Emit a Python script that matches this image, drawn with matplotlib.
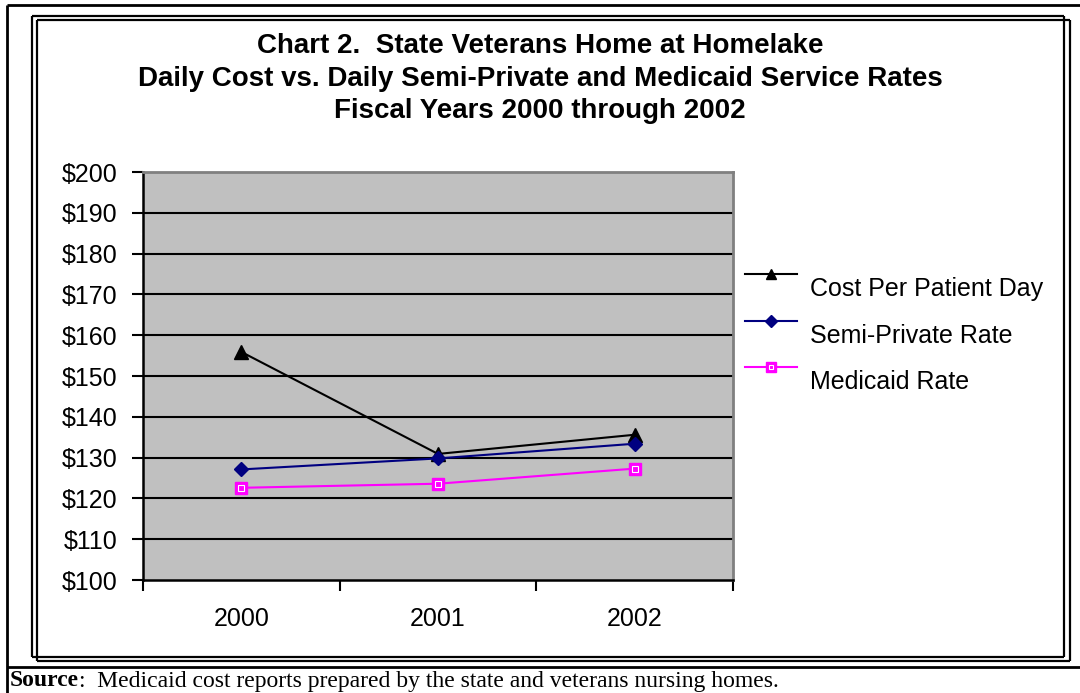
import numpy as np
import matplotlib.pyplot as plt
from matplotlib.lines import Line2D

years = ['2000', '2001', '2002']
cost_per_day = [155.9, 130.9, 135.6]
semi_private = [127.1, 129.8, 133.4]
medicaid = [122.6, 123.6, 127.3]
y_ticks = list(range(100, 201, 10))

W, H = 1080, 693
plt.rcParams['font.family'] = ['Liberation Sans', 'DejaVu Sans']

def fx(x):
    return x / W

def fy(y):
    return 1 - y / H

def seg(fig, x0, y0, x1, y1, lw=1.6, color='black'):
    fig.add_artist(Line2D([fx(x0), fx(x1)], [fy(y0), fy(y1)], lw=lw, color=color,
                          solid_capstyle='butt'))

def rect(fig, x0, y0, x1, y1, lw=1.6):
    seg(fig, x0, y0, x1, y0, lw)
    seg(fig, x1, y0, x1, y1, lw)
    seg(fig, x1, y1, x0, y1, lw)
    seg(fig, x0, y1, x0, y0, lw)

fig = plt.figure(figsize=(W / 100, H / 100), dpi=100)

# outer page frame + source row
seg(fig, 7, 5, W, 5, 2)
seg(fig, 7, 5, 7, H, 2)
seg(fig, 7, 667, W, 667, 2)
# double chart frame
rect(fig, 32, 16, 1064, 657)
rect(fig, 37, 20, 1070, 661)

ax = fig.add_axes([fx(143), fy(580), (733 - 143) / W, (580 - 172) / H])
ax.set_facecolor('#C0C0C0')
ax.set_xlim(0, 3)
ax.set_ylim(100, 200)

styles = [
    ('Cost Per Patient Day', cost_per_day, dict(color='black', marker='^', ms=10)),
    ('Semi-Private Rate', semi_private, dict(color='#000080', marker='D', ms=7.5)),
    ('Medicaid Rate', medicaid, dict(color='#FF00FF', marker='s', ms=9)),
]

x = np.arange(len(years)) + 0.5
for name, vals, st in styles:
    ax.plot(x, vals, lw=1.5, zorder=3, **st)
ax.plot(x, medicaid, ls='none', marker='s', ms=4.5, mfc='none', mec='white',
        mew=0.8, zorder=4)

for v in y_ticks[1:-1]:
    ax.axhline(v, color='black', lw=1.5, zorder=1)

ax.set_yticks(y_ticks)
ax.set_yticklabels(['$%d' % v for v in y_ticks], fontsize=18)
ax.set_xticks([0, 1, 2, 3])
ax.set_xticklabels([])
ax.set_xticks(x, minor=True)
ax.set_xticklabels(years, minor=True, fontsize=18)
ax.tick_params(axis='y', direction='out', length=8, width=1.5, pad=10.5)
ax.tick_params(axis='x', which='major', direction='out', length=8, width=1.5)
ax.tick_params(axis='x', which='minor', length=0, pad=19.5)

for s in ['left', 'bottom']:
    ax.spines[s].set_linewidth(1.8)
    ax.spines[s].set_color('black')
for s in ['top', 'right']:
    ax.spines[s].set_linewidth(2)
    ax.spines[s].set_color('#808080')

# legend, Excel style: line sits above the text baseline
for i, (name, vals, st) in enumerate(styles):
    ly = 274 + i * 46.5
    fig.add_artist(Line2D([fx(745), fx(797)], [fy(ly), fy(ly)], lw=1.5,
                          color=st['color']))
    fig.add_artist(Line2D([fx(771)], [fy(ly)], ls='none', color=st['color'],
                          marker=st['marker'], ms=st['ms'] * 0.75))
    if st['marker'] == 's':
        fig.add_artist(Line2D([fx(771)], [fy(ly)], ls='none', marker='s', ms=3.5,
                              mfc='none', mec='white', mew=0.8))
    fig.text(fx(810), fy(ly + 15), name, va='center', fontsize=18)

fig.text(0.5, fy(46), 'Chart 2.  State Veterans Home at Homelake', ha='center',
         va='center', fontsize=20, fontweight='bold')
fig.text(0.5, fy(79), 'Daily Cost vs. Daily Semi-Private and Medicaid Service Rates',
         ha='center', va='center', fontsize=20, fontweight='bold')
fig.text(0.5, fy(111), 'Fiscal Years 2000 through 2002', ha='center',
         va='center', fontsize=20, fontweight='bold')

src = fig.text(fx(10), fy(681), 'Source', va='center', fontsize=17,
               family='Liberation Serif', fontweight='bold')
fig.canvas.draw()
bb = src.get_window_extent()
fig.text(bb.x1 / W, fy(681),
         ':  Medicaid cost reports prepared by the state and veterans nursing homes.',
         va='center', fontsize=17, family='Liberation Serif')

plt.savefig('out.png', dpi=100)
